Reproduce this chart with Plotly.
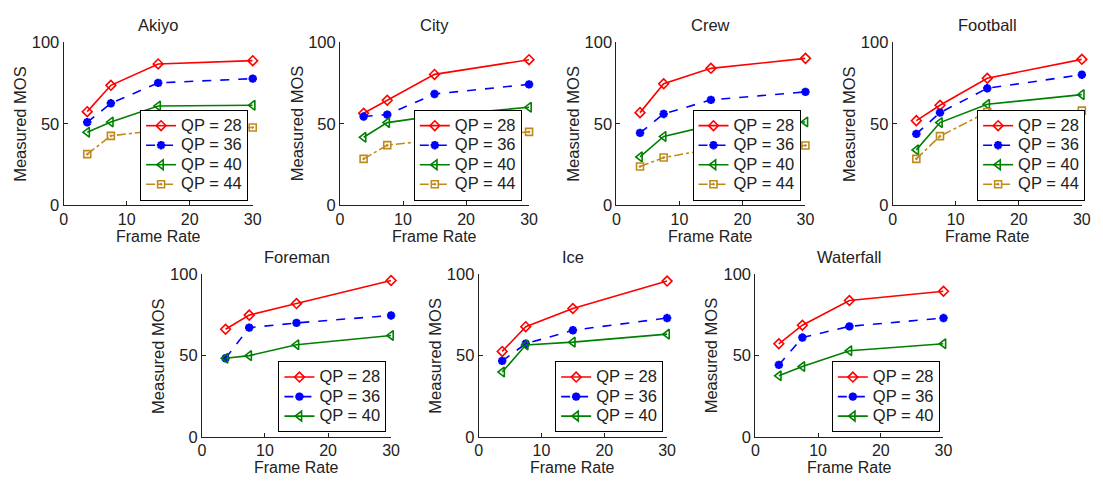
import plotly.graph_objects as go

W, H = 1103, 486

frame_rate = [3.75, 7.5, 15, 30]
qp_labels = ["QP = 28", "QP = 36", "QP = 40", "QP = 44"]

videos = ["Akiyo", "City", "Crew", "Football", "Foreman", "Ice", "Waterfall"]

akiyo_28 = [57.4, 73.5, 86.6, 88.6]
akiyo_36 = [50.9, 62.5, 75.0, 77.6]
akiyo_40 = [44.8, 51.1, 60.9, 61.3]
akiyo_44 = [31.4, 42.6, 46.0, 47.7]

city_28 = [56.4, 64.4, 80.2, 89.2]
city_36 = [54.4, 55.6, 68.2, 74.1]
city_40 = [41.7, 50.7, 54.8, 60.1]
city_44 = [28.5, 36.9, 40.0, 45.0]

crew_28 = [56.8, 74.5, 83.9, 90.0]
crew_36 = [44.4, 56.0, 64.6, 69.5]
crew_40 = [29.7, 42.2, 49.0, 51.1]
crew_44 = [23.8, 29.3, 34.5, 36.7]

football_28 = [51.9, 61.3, 77.8, 89.4]
football_36 = [43.8, 56.8, 71.7, 80.0]
football_40 = [34.0, 50.7, 61.9, 67.8]
football_44 = [28.5, 42.4, 57.2, 58.0]

foreman_28 = [66.1, 74.8, 81.9, 96.1]
foreman_36 = [48.3, 67.1, 70.0, 74.6]
foreman_40 = [48.3, 49.9, 56.6, 62.3]

ice_28 = [52.5, 67.7, 78.9, 95.7]
ice_36 = [46.7, 57.2, 65.5, 73.0]
ice_40 = [39.8, 56.4, 58.2, 63.1]

waterfall_28 = [57.2, 68.6, 83.8, 89.5]
waterfall_36 = [44.2, 61.0, 67.9, 73.0]
waterfall_40 = [37.5, 43.2, 52.9, 57.2]

series = {
    "Akiyo": [akiyo_28, akiyo_36, akiyo_40, akiyo_44],
    "City": [city_28, city_36, city_40, city_44],
    "Crew": [crew_28, crew_36, crew_40, crew_44],
    "Football": [football_28, football_36, football_40, football_44],
    "Foreman": [foreman_28, foreman_36, foreman_40],
    "Ice": [ice_28, ice_36, ice_40],
    "Waterfall": [waterfall_28, waterfall_36, waterfall_40],
}

# pixel layout of each plot area: (left, right, top, bottom)
boxes = {
    "Akiyo": (60.3, 251.7, 34.3, 204.0),
    "City": (340.0, 531.3, 34.3, 204.0),
    "Crew": (619.7, 811.0, 34.3, 204.0),
    "Football": (899.3, 1090.7, 34.3, 204.0),
    "Foreman": (200.3, 391.7, 275.3, 444.3),
    "Ice": (480.3, 671.0, 275.3, 444.3),
    "Waterfall": (760.3, 950.7, 275.3, 444.3),
}
legend_right = {"Akiyo": 247, "City": 524, "Crew": 806, "Football": 1094,
                "Foreman": 387, "Ice": 667, "Waterfall": 947}

styles = [
    dict(color="#ff0000", dash="solid", symbol="diamond-open", size=7.5, lw=1.6),
    dict(color="#0000ff", dash="dash", symbol="asterisk-open", size=7, lw=2.6),
    dict(color="#008000", dash="solid", symbol="triangle-left-open", size=8.5, lw=1.6),
    dict(color="#bf8a1c", dash="dashdot", symbol="square-open-dot", size=7, lw=1.6),
]

FONT = "Liberation Sans, Arial, sans-serif"
TXT = "#222222"

fig = go.Figure()
layout = dict(
    width=W, height=H, margin=dict(l=0, r=0, t=0, b=0),
    paper_bgcolor="white", plot_bgcolor="white",
    font=dict(family=FONT, color=TXT, size=14),
    annotations=[],
)

for i, v in enumerate(videos):
    n = i + 1
    xa = "x" if n == 1 else f"x{n}"
    ya = "y" if n == 1 else f"y{n}"
    lg = "legend" if n == 1 else f"legend{n}"
    L, R, T, B = boxes[v]
    for j, ys in enumerate(series[v]):
        s = styles[j]
        fig.add_trace(go.Scatter(
            x=frame_rate, y=ys, mode="lines+markers",
            name='<span style="font-size:16.5px">' + qp_labels[j] + "</span>",
            xaxis=xa, yaxis=ya, legend=lg, cliponaxis=False,
            line=dict(color=s["color"], dash=s["dash"], width=1.6),
            marker=dict(symbol=s["symbol"], size=s["size"], color=s["color"],
                        line=dict(color=s["color"], width=s["lw"])),
        ))
    xk = "xaxis" if n == 1 else f"xaxis{n}"
    yk = "yaxis" if n == 1 else f"yaxis{n}"
    layout[xk] = dict(
        domain=[L / W, R / W], anchor=ya, range=[0, 30],
        tickvals=[0, 10, 20, 30], ticks="inside", ticklen=4, tickcolor="#222",
        showline=True, linecolor="#222", linewidth=1, showgrid=False, zeroline=False,
        tickfont=dict(size=16, color=TXT), ticklabelstandoff=-1,
    )
    layout[yk] = dict(
        domain=[1 - B / H, 1 - T / H], anchor=xa, range=[0, 100],
        tickvals=[0, 50, 100], ticks="inside", ticklen=4, tickcolor="#222",
        showline=True, linecolor="#222", linewidth=1, showgrid=False, zeroline=False,
        tickfont=dict(size=16.5, color=TXT),
    )
    layout[lg] = dict(
        x=legend_right[v] / W, xanchor="right",
        y=1 - (B - 4.7) / H, yanchor="bottom",
        bgcolor="white", bordercolor="black", borderwidth=1,
        font=dict(size=12.7, color=TXT), tracegroupgap=0,
    )
    layout["annotations"].append(dict(
        text=v, x=(L + R) / 2 / W, y=1 - (T - 17.5) / H, xref="paper", yref="paper",
        showarrow=False, font=dict(size=16.5, color=TXT), xanchor="center", yanchor="middle",
    ))
    layout["annotations"].append(dict(
        text="Frame Rate", x=(L + R) / 2 / W, y=1 - (B + 32) / H, xref="paper", yref="paper",
        showarrow=False, font=dict(size=16, color=TXT), xanchor="center", yanchor="middle",
    ))
    layout["annotations"].append(dict(
        text="Measured MOS", x=(L - 44) / W, y=1 - (T + B) / 2 / H, xref="paper", yref="paper",
        showarrow=False, font=dict(size=16.5, color=TXT), xanchor="center", yanchor="middle",
        textangle=-90,
    ))

fig.update_layout(**layout)
fig.write_html("out.html")
